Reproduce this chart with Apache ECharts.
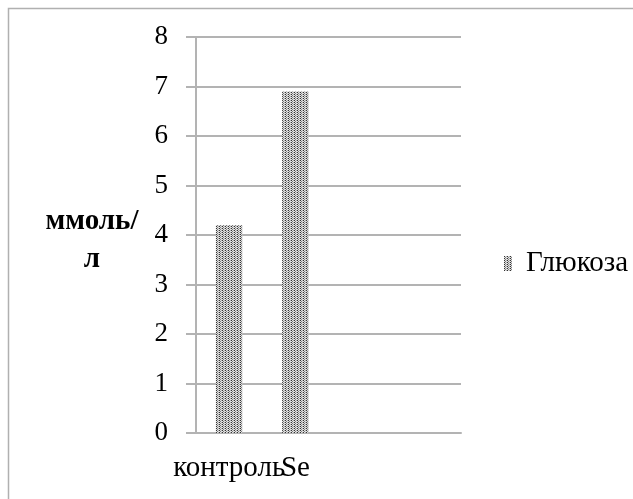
<!DOCTYPE html>
<html>
<head>
<meta charset="utf-8">
<script src="https://cdn.jsdelivr.net/npm/echarts@6/dist/echarts.min.js"></script>
<style>
  html, body { margin: 0; padding: 0; background: #fff; }
  #chart { width: 633px; height: 499px; }
</style>
</head>
<body>
<div id="chart"></div>
<script>
// Glucose level by group, mmol/l
var categories = ['контроль', 'Se', '', ''];
var glucose = [4.2, 6.9, null, null];
var seriesName = 'Глюкоза';
var unitLines = ['ммоль/', 'л'];
var yTicks = [0, 1, 2, 3, 4, 5, 6, 7, 8];

// Dotted fill used for the bars and the legend swatch
function dotPattern() {
  var c = document.createElement('canvas');
  c.width = 3; c.height = 2;
  var g = c.getContext('2d');
  g.fillStyle = '#e0e0e0';
  g.fillRect(0, 0, 3, 2);
  g.fillStyle = '#333333';
  g.fillRect(0, 0, 1, 1);
  g.fillStyle = '#808080';
  g.fillRect(1, 1, 1, 1);
  g.fillStyle = '#b0b0b0';
  g.fillRect(2, 0, 1, 1);
  return c;
}

var fill = { image: dotPattern(), repeat: 'repeat' };
var serif = '"Liberation Serif", "Times New Roman", serif';
var gridColor = '#b3b3b3';

var unitText = unitLines.map(function (line, i) {
  return {
    type: 'text',
    x: 92, y: 222 + i * 38,
    style: {
      text: line,
      font: 'bold 29px ' + serif,
      fill: '#000',
      align: 'center',
      verticalAlign: 'middle'
    }
  };
});

var chart = echarts.init(document.getElementById('chart'), null, { renderer: 'canvas' });
chart.setOption({
  animation: false,
  backgroundColor: '#fff',
  textStyle: { fontFamily: serif },
  graphic: [{
    type: 'rect',
    shape: { x: 8.5, y: 8.5, width: 800, height: 700 },
    style: { fill: 'none', stroke: '#b0b0b0', lineWidth: 1.5 },
    silent: true
  }].concat(unitText),
  legend: {
    left: 499, top: 244,
    itemWidth: 8, itemHeight: 15, itemGap: 10,
    textStyle: { fontFamily: serif, fontSize: 29, color: '#000', padding: [0, 0, 0, 9] },
    data: [{ name: seriesName, icon: 'rect' }]
  },
  grid: { left: 196, right: 172, top: 37, bottom: 66, containLabel: false },
  xAxis: {
    type: 'category',
    data: categories,
    axisLine: { show: true, lineStyle: { color: gridColor, width: 2 } },
    axisTick: { show: false },
    axisLabel: { fontFamily: serif, fontSize: 29, color: '#000', margin: 21, interval: 0 }
  },
  yAxis: {
    type: 'value',
    min: yTicks[0], max: yTicks[yTicks.length - 1], interval: 1,
    axisLine: { show: true, lineStyle: { color: gridColor, width: 2 } },
    axisTick: { show: true, length: 10, lineStyle: { color: gridColor, width: 2 } },
    axisLabel: { fontFamily: serif, fontSize: 27, color: '#000', margin: 28 },
    splitLine: { show: true, lineStyle: { color: gridColor, width: 2 } }
  },
  series: [{
    name: seriesName,
    type: 'bar',
    data: glucose,
    barWidth: '40%',
    itemStyle: { color: fill }
  }]
});
</script>
</body>
</html>
